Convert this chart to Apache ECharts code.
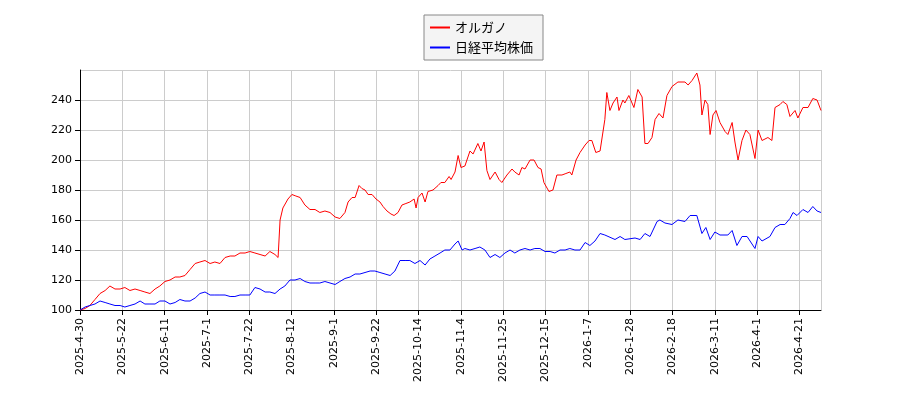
<!DOCTYPE html>
<html><head><meta charset="utf-8">
<script src="https://cdn.jsdelivr.net/npm/echarts@6/dist/echarts.min.js"></script>
<style>html,body{margin:0;padding:0;background:#fff}#c{width:900px;height:400px}</style>
</head><body><div id="c"></div>
<script>
const tickLabels=["2025-4-30","2025-5-22","2025-6-11","2025-7-1","2025-7-22","2025-8-12","2025-9-1","2025-9-22","2025-10-14","2025-11-4","2025-11-25","2025-12-15","2026-1-7","2026-1-28","2026-2-18","2026-3-11","2026-4-1","2026-4-21"];
const redX=[0,1.8,3.5,5.3,7.1,8.9,10.6,12.4,14.2,15.9,17.7,19.5,21.3,23.0,24.8,26.6,28.3,30.1,31.9,33.7,35.4,37.2,39.0,40.8,42.5,44.3,46.1,47.8,49.6,51.4,53.2,54.9,56.7,58.5,60.2,62.0,63.8,65.6,67.3,69.1,70.2,70.9,71.9,73.7,75.1,76.5,78.0,79.7,81.5,83.3,85.0,86.8,88.6,90.4,92.1,93.9,95.0,96.4,97.5,98.9,99.9,101.0,102.1,103.5,104.9,106.3,107.4,108.8,110.2,111.3,112.7,114.1,115.5,116.9,118.4,119.1,119.8,121.2,122.3,123.3,125.1,126.9,127.9,129.3,130.8,131.5,132.9,134.0,135.0,136.4,138.2,139.3,141.0,142.1,143.2,144.2,145.3,147.1,148.5,149.5,151.3,153.1,154.1,155.6,156.6,157.7,159.5,160.9,162.3,163.4,164.4,166.2,167.6,169.0,170.8,172.2,173.6,174.3,175.8,177.2,179.0,180.4,181.4,182.8,184.3,186.0,186.7,187.8,188.9,190.3,191.0,192.4,193.1,194.5,196.3,197.7,199.2,200.2,201.3,202.7,203.8,205.2,206.6,208.0,209.8,211.9,214.4,215.5,216.9,218.6,219.7,220.4,221.5,222.5,223.3,224.3,225.4,226.8,228.6,229.6,231.1,232.1,233.2,234.6,236.0,237.4,239.2,240.3,241.7,243.8,245.2,246.3,248.1,249.1,250.5,251.6,253.4,254.4,256.2,258.0,259.7,261.2,262.6];
const redY=[100,101,103,107,111,113,116,114,114,115,113,114,113,112,111,114,116,119,120,122,122,123,127,131,132,133,131,132,131,135,136,136,138,138,139,138,137,136,139,137,135,160,168,174,177,176,175,170,167,167,165,166,165,162,161,165,172,175,175,183,181,180,177,177,174,172,169,166,164,163,165,170,171,172,174,168,175,178,172,179,180,183,185,185,189,187,192,203,195,196,206,204,211,206,212,193,187,192,187,185,190,194,192,190,195,194,200,200,195,194,185,179,180,190,190,191,192,190,200,205,210,213,213,205,206,227,245,233,238,242,233,240,238,243,235,247,242,211,211,215,227,231,228,243,249,252,252,250,253,258,250,230,240,237,217,230,233,225,219,217,225,212,200,213,220,217,201,220,213,215,213,235,237,239,237,229,233,228,235,235,241,240,233];
const blueX=[0,1.8,3.5,5.3,7.1,8.9,10.6,12.4,14.2,15.9,17.7,19.5,21.3,23.0,24.8,26.6,28.3,30.1,31.9,33.7,35.4,37.2,39.0,40.8,42.5,44.3,46.1,47.8,49.6,51.4,53.2,54.9,56.7,58.5,60.2,62.0,63.8,65.6,67.3,69.1,70.9,72.6,74.4,76.2,78.0,79.7,81.5,83.3,85.0,86.8,88.6,90.4,92.1,93.9,95.7,97.5,99.2,101.0,102.8,104.5,106.3,108.1,109.9,111.6,113.4,115.2,116.9,118.7,120.5,122.3,124.0,125.8,127.6,129.3,131.1,132.9,134.0,135.4,136.4,138.2,140.0,141.7,143.5,145.3,147.1,148.8,150.6,152.4,154.1,155.9,157.7,159.5,161.2,163.0,164.8,166.6,168.3,170.1,171.9,173.6,175.4,177.2,179.0,180.7,182.5,184.3,186.0,189.6,191.4,193.1,196.7,198.5,200.2,202.0,204.5,205.5,207.3,209.8,211.9,214.4,216.2,218.6,220.4,221.8,223.3,225.0,226.8,229.6,231.1,232.8,234.6,236.4,239.2,240.3,241.7,244.5,246.3,248.1,249.8,251.6,252.7,254.1,256.2,258.0,259.7,261.2,262.6];
const blueY=[100,102,103,104,106,105,104,103,103,102,103,104,106,104,104,104,106,106,104,105,107,106,106,108,111,112,110,110,110,110,109,109,110,110,110,115,114,112,112,111,114,116,120,120,121,119,118,118,118,119,118,117,119,121,122,124,124,125,126,126,125,124,123,126,133,133,133,131,133,130,134,136,138,140,140,144,146,140,141,140,141,142,140,135,137,135,138,140,138,140,141,140,141,141,139,139,138,140,140,141,140,140,145,143,146,151,150,147,149,147,148,147,151,149,159,160,158,157,160,159,163,163,151,155,147,152,150,150,153,143,149,149,141,149,146,149,155,157,157,161,165,163,167,165,169,166,165];
const zip=(a,b)=>a.map((v,i)=>[v,b[i]]);
const chart=echarts.init(document.getElementById('c'));
chart.setOption({
  animation:false,
  legend:{top:15,left:424,orient:'vertical',itemWidth:20,itemHeight:2,icon:'rect',
    borderColor:'#888',borderWidth:1,backgroundColor:'#f4f4f4',padding:[6,10,6,6],itemGap:7,
    textStyle:{fontFamily:'Noto Sans CJK JP',fontSize:13,color:'#000'},
    data:['オルガノ','日経平均株価']},
  grid:{left:80,right:79,top:70,bottom:90},
  xAxis:{type:'value',min:0,max:262.6,interval:15,
    axisLine:{lineStyle:{color:'#000'}},axisTick:{lineStyle:{color:'#000'},length:5},
    splitLine:{show:true,lineStyle:{color:'#ccc'}},
    axisLabel:{rotate:90,color:'#000',fontSize:11,fontFamily:'DejaVu Sans',showMaxLabel:false,
      formatter:v=>tickLabels[Math.round(v/15)]||''}},
  yAxis:{type:'value',min:100,max:260,interval:20,
    axisLine:{show:true,lineStyle:{color:'#000'}},axisTick:{show:true,lineStyle:{color:'#000'},length:5},
    splitLine:{lineStyle:{color:'#ccc'}},
    axisLabel:{color:'#000',fontSize:11,fontFamily:'DejaVu Sans',showMaxLabel:false}},
  series:[
    {name:'オルガノ',type:'line',data:zip(redX,redY),symbol:'none',lineStyle:{color:'#ff0000',width:1},itemStyle:{color:'#ff0000'}},
    {name:'日経平均株価',type:'line',data:zip(blueX,blueY),symbol:'none',lineStyle:{color:'#0000ff',width:1},itemStyle:{color:'#0000ff'}}
  ]
});
</script></body></html>
